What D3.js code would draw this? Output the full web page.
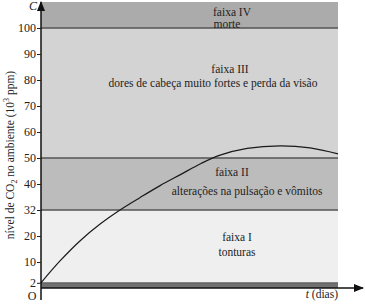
<!DOCTYPE html>
<html lang="pt">
<head>
<meta charset="UTF-8">
<title>Nível de CO2</title>
<script src="https://d3js.org/d3.v7.min.js"></script>
<style>
  body { margin: 0; background: #fff; }
  text { font-family: "Liberation Serif", "DejaVu Serif", serif; fill: #222; }
</style>
</head>
<body>
<script>
// dados
var tempo = [0, 6.4, 13.1, 19.9, 26.6, 33.3, 40.1, 47.1, 53.9, 60.3, 69.4, 80.5, 90.6, 100];
var nivel = [2, 10.4, 18.1, 25.5, 32, 35.8, 39.5, 43.7, 47.9, 51.1, 53.7, 54.7, 53.9, 51.6];
var yTicks = [2, 10, 20, 32, 40, 50, 60, 70, 80, 90, 100];
var faixaLimites = [[0, 2], [2, 32], [32, 50], [50, 100], [100, 110]];
var faixaCores = ["#707070", "#efefef", "#bcbcbc", "#d3d3d3", "#ababab"];
var faixaNomes = ["", "faixa I", "faixa II", "faixa III", "faixa IV"];
var faixaEfeitos = ["", "tonturas", "alterações na pulsação e vômitos",
                    "dores de cabeça muito fortes e perda da visão", "morte"];

var width = 365, height = 304;

var svg = d3.select("body").append("svg")
    .attr("width", width)
    .attr("height", height);

var x = d3.scaleLinear().domain([0, 100]).range([41, 338]);
// eixo fora de escala entre 20 e 40 (como no original)
var y = d3.scaleLinear().domain([0, 20, 32, 40, 110]).range([288, 236, 210, 184, 2]);

// faixas
svg.selectAll("rect.faixa")
    .data(faixaLimites)
    .enter().append("rect")
    .attr("class", "faixa")
    .attr("x", x(0))
    .attr("width", x(100) - x(0))
    .attr("y", d => y(d[1]))
    .attr("height", d => y(d[0]) - y(d[1]))
    .attr("fill", (d, i) => faixaCores[i]);

// linhas de separação
svg.selectAll("line.lim")
    .data([32, 50, 100])
    .enter().append("line")
    .attr("x1", x(0)).attr("x2", x(100))
    .attr("y1", d => y(d)).attr("y2", d => y(d))
    .attr("stroke", "#555").attr("stroke-width", 1.5);

svg.append("line")
    .attr("x1", x(0)).attr("x2", x(100))
    .attr("y1", y(2)).attr("y2", y(2))
    .attr("stroke", "#555").attr("stroke-width", 1);

// textos das faixas
var txtPos = [null, [237, 241, 237, 256], [232, 176, 247, 195], [230, 73, 213, 87], [232, 16, 227, 28]];
faixaNomes.forEach(function (n, i) {
    if (!n) return;
    var p = txtPos[i];
    svg.append("text").attr("x", p[0]).attr("y", p[1])
        .attr("text-anchor", "middle").style("font-size", "11.5px").text(n);
    svg.append("text").attr("x", p[2]).attr("y", p[3])
        .attr("text-anchor", "middle").style("font-size", "11.5px").text(faixaEfeitos[i]);
});

// curva
var pts = tempo.map((t, i) => [t, nivel[i]]);
svg.append("path")
    .datum(pts)
    .attr("fill", "none")
    .attr("stroke", "#1a1a1a")
    .attr("stroke-width", 1.2)
    .attr("d", d3.line().x(d => x(d[0])).y(d => y(d[1])).curve(d3.curveCatmullRom.alpha(0.5)));

// eixos
svg.append("defs").append("marker")
    .attr("id", "seta")
    .attr("viewBox", "0 0 10 10")
    .attr("refX", 9).attr("refY", 5)
    .attr("markerWidth", 7).attr("markerHeight", 7)
    .attr("orient", "auto")
    .append("path").attr("d", "M0,1 L10,5 L0,9 Z").attr("fill", "#111");

svg.append("line")
    .attr("x1", x(0)).attr("x2", x(0))
    .attr("y1", 300).attr("y2", 2)
    .attr("stroke", "#111").attr("stroke-width", 1.5)
    .attr("marker-end", "url(#seta)");

svg.append("line")
    .attr("x1", x(0)).attr("x2", 363)
    .attr("y1", y(0)).attr("y2", y(0))
    .attr("stroke", "#111").attr("stroke-width", 1.5)
    .attr("marker-end", "url(#seta)");

var yAxis = svg.append("g")
    .attr("transform", "translate(" + x(0) + ",0)")
    .call(d3.axisLeft(y).tickValues(yTicks).tickSize(4).tickPadding(1));
yAxis.select(".domain").remove();
yAxis.selectAll("text").style("font-size", "12px").style("font-family", "Liberation Serif, serif").attr("fill", "#222");
yAxis.selectAll("line").attr("stroke", "#222");

svg.append("text").attr("x", 32).attr("y", 300).attr("text-anchor", "middle")
    .style("font-size", "12px").text("O");
svg.append("text").attr("x", 33).attr("y", 10).attr("text-anchor", "middle")
    .style("font-size", "12px").style("font-style", "italic").text("C");

var tl = svg.append("text").attr("x", 338).attr("y", 298).attr("text-anchor", "end")
    .style("font-size", "11.5px");
tl.append("tspan").style("font-style", "italic").text("t");
tl.append("tspan").text(" (dias)");

// rótulo do eixo y
var yl = svg.append("text")
    .attr("transform", "translate(14,155) rotate(-90)")
    .attr("text-anchor", "middle")
    .style("font-size", "11.5px");
yl.append("tspan").text("nível de CO");
yl.append("tspan").attr("dy", 3).style("font-size", "8px").text("2");
yl.append("tspan").attr("dy", -3).text(" no ambiente (10");
yl.append("tspan").attr("dy", -5).style("font-size", "8px").text("3");
yl.append("tspan").attr("dy", 5).text(" ppm)");
</script>
</body>
</html>
